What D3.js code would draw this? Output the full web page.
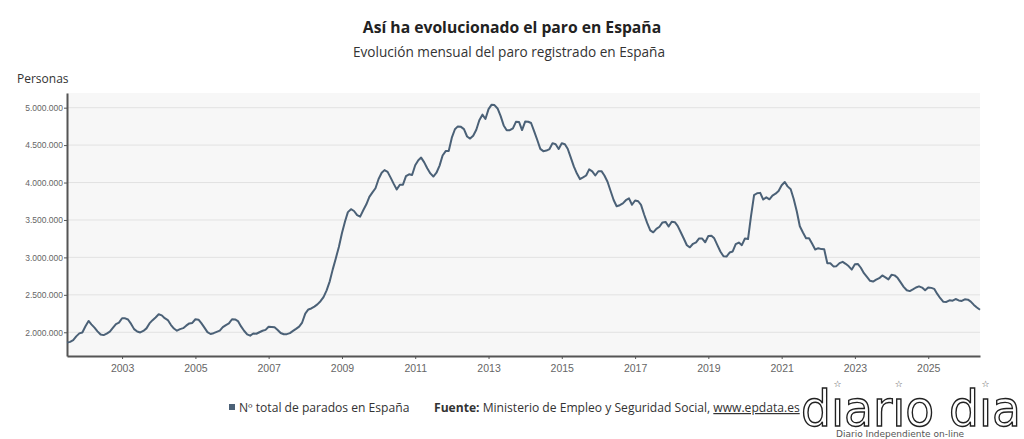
<!DOCTYPE html>
<html>
<head>
<meta charset="utf-8">
<script src="https://cdn.jsdelivr.net/npm/d3@7"></script>
<style>
  body { margin: 0; background: #fff; }
  svg { display: block; font-family: "Open Sans", sans-serif; }
</style>
</head>
<body>
<svg id="chart" width="1024" height="439"></svg>
<script>
// monthly registered unemployment (thousands), Jul 2001 .. Jun 2026
const firstYear = 2001, firstMonth = 6; // July (0-based)
const parados = [
  1862, 1872, 1895, 1945, 1985, 1997,                                   // 2001 jul-dic
  2080, 2151, 2105, 2062, 2012, 1970, 1962, 1982, 2008, 2058, 2108, 2128, // 2002
  2187, 2186, 2170, 2112, 2042, 2010, 1998, 2018, 2052, 2118, 2162, 2198, // 2003
  2240, 2226, 2188, 2163, 2100, 2050, 2021, 2042, 2055, 2088, 2118, 2125, // 2004
  2174, 2168, 2122, 2062, 2002, 1977, 1988, 2006, 2022, 2068, 2096, 2118, // 2005
  2174, 2172, 2150, 2078, 2020, 1972, 1955, 1983, 1980, 2000, 2020, 2032, // 2006
  2074, 2070, 2066, 2030, 1990, 1973, 1975, 1988, 2018, 2045, 2075, 2130, // 2007
  2250, 2305, 2318, 2343, 2372, 2415, 2470, 2560, 2680, 2840, 2990, 3140, // 2008
  3327, 3482, 3605, 3644, 3620, 3564, 3544, 3629, 3709, 3808, 3869, 3924, // 2009
  4048, 4130, 4166, 4142, 4066, 3982, 3908, 3970, 3972, 4085, 4110, 4100, // 2010
  4231, 4299, 4333, 4270, 4190, 4122, 4080, 4131, 4226, 4361, 4420, 4422, // 2011
  4599, 4712, 4750, 4744, 4714, 4615, 4587, 4626, 4705, 4833, 4907, 4849, // 2012
  4980, 5040, 5035, 4989, 4890, 4763, 4698, 4699, 4724, 4811, 4809, 4701, // 2013
  4814, 4812, 4795, 4684, 4572, 4449, 4419, 4427, 4447, 4526, 4512, 4448, // 2014
  4525, 4512, 4451, 4333, 4215, 4120, 4046, 4068, 4094, 4176, 4149, 4094, // 2015
  4151, 4152, 4094, 4011, 3891, 3767, 3683, 3697, 3721, 3764, 3789, 3703, // 2016
  3760, 3750, 3702, 3573, 3461, 3362, 3335, 3382, 3410, 3467, 3474, 3412, // 2017
  3477, 3470, 3422, 3336, 3252, 3162, 3135, 3182, 3202, 3254, 3252, 3202, // 2018
  3285, 3289, 3255, 3163, 3079, 3015, 3011, 3065, 3079, 3177, 3198, 3164, // 2019
  3253, 3246, 3548, 3831, 3857, 3862, 3773, 3802, 3776, 3826, 3851, 3888, // 2020
  3964, 4008, 3949, 3910, 3781, 3614, 3416, 3333, 3257, 3257, 3182, 3106, // 2021
  3123, 3111, 3108, 2922, 2922, 2880, 2883, 2924, 2941, 2914, 2881, 2837, // 2022
  2908, 2911, 2862, 2789, 2739, 2688, 2677, 2702, 2722, 2759, 2734, 2707, // 2023
  2767, 2760, 2727, 2666, 2607, 2561, 2550, 2572, 2598, 2613, 2597, 2561, // 2024
  2599, 2593, 2580, 2512, 2455, 2406, 2405, 2427, 2422, 2444, 2425, 2418, // 2025
  2441, 2435, 2410, 2365, 2330, 2300                                    // 2026 ene-jun
];
const yTicks = [2000000, 2500000, 3000000, 3500000, 4000000, 4500000, 5000000];
const xTickYears = [2003, 2005, 2007, 2009, 2011, 2013, 2015, 2017, 2019, 2021, 2023, 2025];

const titleText = 'Así ha evolucionado el paro en España';
const subtitleText = 'Evolución mensual del paro registrado en España';
const yAxisTitle = 'Personas';
const seriesName = 'Nº total de parados en España';
const sourceLabel = 'Fuente:';
const sourceText = ' Ministerio de Empleo y Seguridad Social, ';
const sourceLink = 'www.epdata.es';

const lineColor = '#4b6177';

const data = parados.map((v, i) => ({ date: new Date(firstYear, firstMonth + i, 1), value: v * 1000 }));

const svg = d3.select('#chart');
const plot = { left: 67, right: 980, top: 93, bottom: 356 };

const x = d3.scaleTime()
  .domain(d3.extent(data, d => d.date))
  .range([plot.left, plot.right]);
const y = d3.scaleLinear()
  .domain([1683000, 5196000])
  .range([plot.bottom, plot.top]);

const esFormat = d3.formatLocale({ decimal: ',', thousands: '.', grouping: [3], currency: ['', ' €'] }).format(',d');

// titles
svg.append('text')
  .attr('x', 512).attr('y', 33)
  .attr('text-anchor', 'middle')
  .attr('font-size', 15.7).attr('font-weight', 'bold').attr('fill', '#222')
  .text(titleText);
svg.append('text')
  .attr('x', 509).attr('y', 57)
  .attr('text-anchor', 'middle')
  .attr('font-size', 13.6).attr('fill', '#333')
  .text(subtitleText);
svg.append('text')
  .attr('x', 17).attr('y', 83)
  .attr('font-size', 12).attr('fill', '#333')
  .text(yAxisTitle);

// plot background + grid
svg.append('rect')
  .attr('x', plot.left).attr('y', plot.top)
  .attr('width', plot.right - plot.left).attr('height', plot.bottom - plot.top)
  .attr('fill', '#f7f7f7');

svg.append('g')
  .selectAll('line')
  .data(yTicks)
  .join('line')
  .attr('x1', plot.left).attr('x2', plot.right)
  .attr('y1', d => y(d)).attr('y2', d => y(d))
  .attr('stroke', '#e2e2e2').attr('stroke-width', 1);

// axes
const yAxis = svg.append('g')
  .attr('transform', `translate(${plot.left},0)`)
  .call(d3.axisLeft(y).tickValues(yTicks).tickFormat(esFormat).tickSize(3).tickPadding(1).tickSizeOuter(0));
yAxis.selectAll('text').attr('font-family', '"Liberation Sans", sans-serif').attr('font-size', 8.5).attr('fill', '#666');
yAxis.selectAll('.tick line').attr('stroke', '#555');
yAxis.select('.domain').attr('stroke', '#555').attr('stroke-width', 2);

const xAxis = svg.append('g')
  .attr('transform', `translate(0,${plot.bottom})`)
  .call(d3.axisBottom(x)
    .tickValues(xTickYears.map(yr => new Date(yr, 0, 1)))
    .tickFormat(d3.timeFormat('%Y'))
    .tickSize(3).tickPadding(6).tickSizeOuter(0));
xAxis.selectAll('text').attr('font-family', '"Liberation Sans", sans-serif').attr('font-size', 10.5).attr('fill', '#666');
xAxis.selectAll('.tick line').attr('stroke', '#555');
xAxis.select('.domain').attr('stroke', '#555').attr('stroke-width', 2);

// series
const line = d3.line()
  .x(d => x(d.date))
  .y(d => y(d.value));

svg.append('path')
  .datum(data)
  .attr('d', line)
  .attr('fill', 'none')
  .attr('stroke', lineColor)
  .attr('stroke-width', 2)
  .attr('stroke-linejoin', 'round');

// legend + source
svg.append('rect')
  .attr('x', 229).attr('y', 404).attr('width', 6).attr('height', 6)
  .attr('fill', lineColor);
svg.append('text')
  .attr('x', 239).attr('y', 412)
  .attr('font-size', 12.1).attr('fill', '#333')
  .text(seriesName);

const src = svg.append('text')
  .attr('x', 434).attr('y', 412)
  .attr('font-size', 12.1).attr('fill', '#333');
src.append('tspan').attr('font-weight', 'bold').text(sourceLabel);
src.append('tspan').text(sourceText);
src.append('tspan').attr('text-decoration', 'underline').text(sourceLink);

// watermark logo (stars stand in for the dots of the i's)
const logo = svg.append('g');
const logoWord = 'dıarıo dıa';
const logoText = logo.append('text')
  .attr('x', 801).attr('y', 426)
  .attr('textLength', 220).attr('lengthAdjust', 'spacingAndGlyphs')
  .attr('font-family', '"DejaVu Sans", sans-serif')
  .attr('font-stretch', 'condensed')
  .attr('font-size', 50)
  .attr('fill', '#fff').attr('stroke', '#222').attr('stroke-width', 1.3)
  .text(logoWord);

const logoNode = logoText.node();
const starXs = [...logoWord]
  .map((ch, i) => ch === 'ı' ? i : -1)
  .filter(i => i >= 0)
  .map(i => {
    const ext = logoNode.getExtentOfChar(i);
    return ext.x + ext.width / 2;
  });

logo.selectAll('text.star')
  .data(starXs)
  .join('text')
  .attr('class', 'star')
  .attr('x', d => d).attr('y', 387)
  .attr('text-anchor', 'middle')
  .attr('font-family', '"DejaVu Sans", sans-serif')
  .attr('font-size', 9).attr('fill', '#444')
  .text('☆');
logo.append('text')
  .attr('x', 836).attr('y', 437)
  .attr('font-family', '"DejaVu Sans", sans-serif')
  .attr('font-size', 9).attr('fill', '#555')
  .text('Diario Independiente on-line');
</script>
</body>
</html>
